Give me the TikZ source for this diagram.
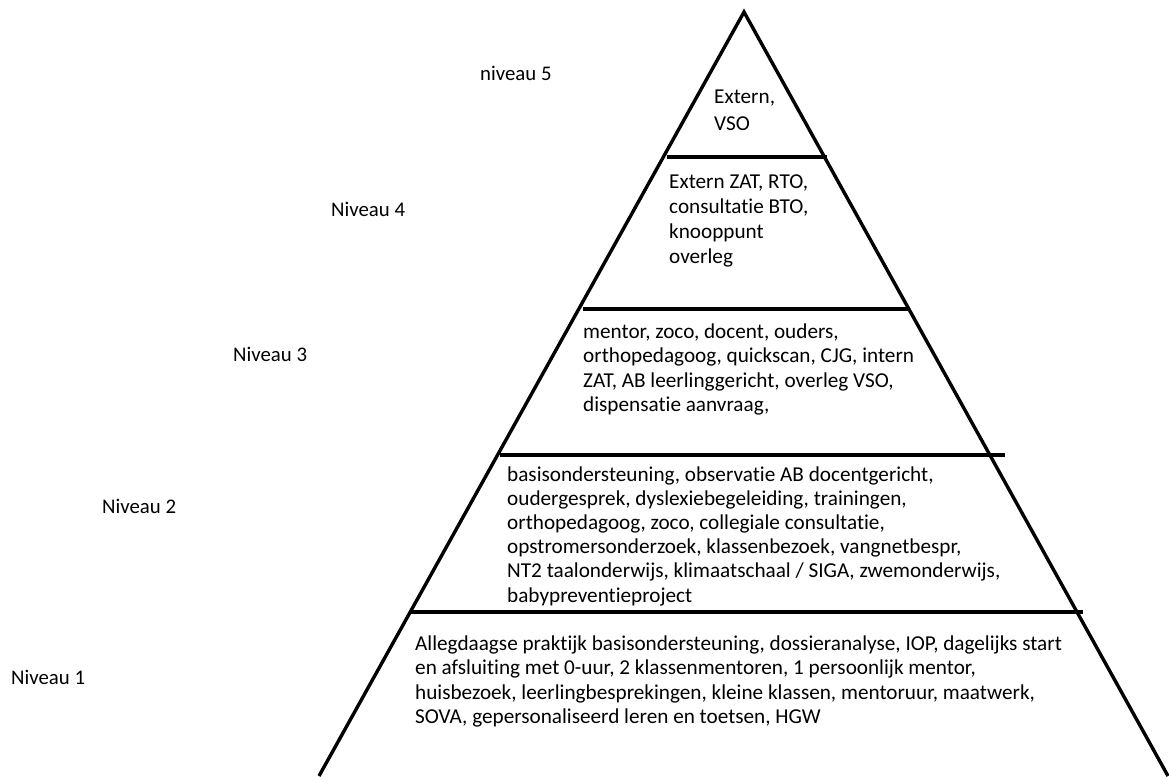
\documentclass[tikz,border=0pt]{standalone}
\usepackage{fontspec}
\setmainfont{Carlito}[Ligatures={NoCommon}]
\usepackage{tikz}
\usetikzlibrary{calc}
\tikzset{
  edgeline/.style={line width=3.4pt, line join=miter},
  tierline/.style={line width=3.4pt},
  niveaulabel/.style={anchor=base west, inner sep=0pt, font={\fontsize{20.8}{24.6}\selectfont}},
  tiertext/.style={anchor=base west, inner sep=0pt, align=left, font={\fontsize{21.2}{24.6}\selectfont}}
}
\newcommand{\tier}[3]{\draw[tierline] ( #1 , #3 ) -- ( #2 , #3 );}
\newcommand{\niveau}[4]{\node[niveaulabel] (#1) at ( #2 , #3 ) {#4};}

\begin{document}
\begin{tikzpicture}[x=1pt, y=-1pt]
        \useasboundingbox (0,0) rectangle (1169,776);
        % pyramid
        \draw[edgeline] (319,776) -- (744,12) -- (1168,776);
        \tier{667}{827}{157}
        \tier{583}{910}{309}
        \tier{500}{1005}{455}
        \tier{410}{1083}{612}
        % labels
        \niveau{n5}{480}{81}{niveau 5}
        \niveau{n4}{331}{216}{Niveau 4}
        \niveau{n3}{233}{361}{Niveau 3}
        \niveau{n2}{102}{513}{Niveau 2}
        \niveau{n1}{11}{684}{Niveau 1}
        % level 5 (anchored at last line)
        \node[tiertext, font={\fontsize{21.2}{27}\selectfont}] (t5) at (714,130) {Extern,\\VSO};
        % level 4
        \node[tiertext, font={\fontsize{21.2}{25.2}\selectfont}] (t4) at (669,263.6)
          {Extern ZAT, RTO,\\consultatie BTO,\\knooppunt\\overleg};
        % level 3
        \node[tiertext] (t3) at (583,411.8)
          {mentor, zoco, docent, ouders,\\orthopedagoog, quickscan, CJG, intern\\ZAT, AB leerlinggericht, overleg VSO,\\dispensatie aanvraag,};
        % level 2
        \node[tiertext, font={\fontsize{21.2}{24.2}\selectfont}] (t2) at (507,602)
          {basisondersteuning, observatie AB docentgericht,\\oudergesprek, dyslexiebegeleiding, trainingen,\\orthopedagoog, zoco, collegiale consultatie,\\opstromersonderzoek, klassenbezoek, vangnetbespr,\\NT2 taalonderwijs, klimaatschaal / SIGA, zwemonderwijs,\\babypreventieproject};
        % level 1
        \node[tiertext] (t1) at (415,723.8)
          {Allegdaagse praktijk basisondersteuning, dossieranalyse, IOP, dagelijks start\\en afsluiting met 0-uur, 2 klassenmentoren, 1 persoonlijk mentor,\\huisbezoek, leerlingbesprekingen, kleine klassen, mentoruur, maatwerk,\\SOVA, gepersonaliseerd leren en toetsen, HGW};
\end{tikzpicture}
\end{document}
